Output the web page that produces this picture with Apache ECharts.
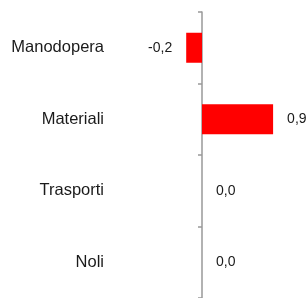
<!DOCTYPE html>
<html>
<head>
<meta charset="utf-8">
<style>
  html, body { margin: 0; padding: 0; background: #fff; }
  #chart { width: 307px; height: 298px; }
</style>
<script src="https://cdn.jsdelivr.net/npm/echarts@6/dist/echarts.min.js"></script>
</head>
<body>
<div id="chart"></div>
<script>
var categories = ['Manodopera', 'Materiali', 'Trasporti', 'Noli'];
var values = [-0.2, 0.9, 0.0, 0.0];

var chart = echarts.init(document.getElementById('chart'), null, { renderer: 'canvas' });

var fontFamily = '"Liberation Sans", Arial, sans-serif';

// negative values get the label on the left, the rest on the right
var barData = values.map(function (v) {
  return {
    value: v,
    label: { position: v < 0 ? 'left' : 'right' }
  };
});

var option = {
  backgroundColor: '#ffffff',
  animation: false,
  grid: {
    top: 12, bottom: 0, left: 162.5, right: 26,
    containLabel: false,
    outerBoundsMode: 'none'
  },
  xAxis: {
    type: 'value',
    min: -0.5,
    max: 1.0,
    show: false
  },
  yAxis: {
    type: 'category',
    data: categories,
    inverse: true,
    axisLine: { onZero: true, lineStyle: { color: '#999999', width: 1.5 } },
    axisTick: { show: true, length: 4, lineStyle: { color: '#999999', width: 1.5 } },
    // labels are placed from the grid's left edge, not from the zero line
    axisLabel: {
      margin: 58.5,
      color: '#1a1a1a',
      fontFamily: fontFamily,
      fontSize: 16.5,
      padding: [3, 0, 0, 0]
    },
    splitLine: { show: false }
  },
  series: [
    {
      type: 'bar',
      data: barData,
      barWidth: 30,
      itemStyle: { color: '#ff0000' },
      label: {
        show: true,
        distance: 14,
        color: '#1a1a1a',
        fontFamily: fontFamily,
        fontSize: 14,
        padding: [3, 0, 0, 0],
        formatter: function (p) { return p.value.toFixed(1).replace('.', ','); }
      }
    }
  ]
};

chart.setOption(option);
window.addEventListener('resize', function () { chart.resize(); });
</script>
</body>
</html>
